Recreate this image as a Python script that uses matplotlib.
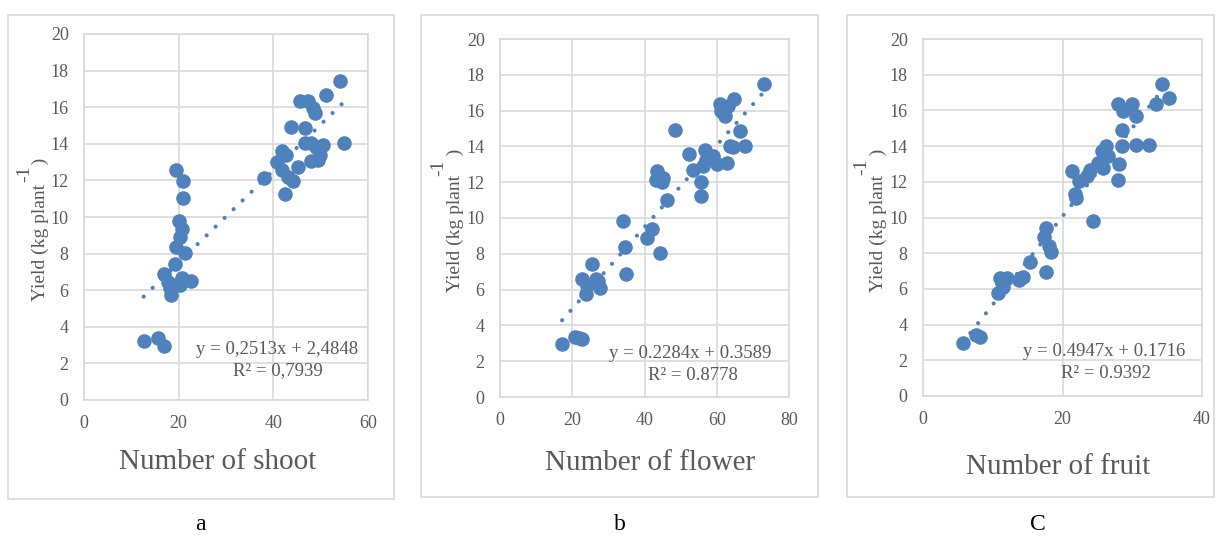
import matplotlib.pyplot as plt
import matplotlib.patches as patches
import numpy as np

plt.rcParams['font.family'] = ['Liberation Serif', 'DejaVu Serif']

# values
shoot = [12.6, 15.7, 16.9, 19.5, 20.9, 20.9, 20.0, 20.6, 20.2, 19.5, 21.4, 19.3, 16.9, 17.7,
         18.1, 18.3, 20.2, 20.6, 22.7, 19.0, 38.0, 40.8, 41.8, 42.7, 41.8, 43.1, 44.2, 42.4,
         43.7, 45.2, 45.7, 47.3, 48.4, 48.8, 46.7, 46.7, 48.0, 48.0, 49.4, 49.8, 50.4, 49.1,
         51.1, 54.0, 54.9]
yield_a = [3.24, 3.37, 2.95, 12.57, 11.99, 11.04, 9.8, 9.36, 8.89, 8.34, 8.05, 7.41, 6.89, 6.47,
           6.1, 5.74, 6.28, 6.65, 6.52, 6.3, 12.12, 13.0, 13.62, 13.39, 12.57, 12.2, 11.97, 11.28,
           14.92, 12.74, 16.35, 16.35, 15.96, 15.68, 14.86, 14.04, 14.03, 13.05, 13.11, 13.39, 13.93,
           13.8, 16.67, 17.44, 14.04]

flower = [17.2, 20.7, 22.8, 21.8, 22.6, 24.0, 23.8, 25.5, 26.7, 27.2, 27.8, 34.1, 34.7, 34.8,
          40.8, 42.2, 44.4, 43.5, 43.1, 45.2, 44.9, 46.1, 48.5, 52.4, 53.5, 55.6, 55.6, 56.7,
          56.2, 57.1, 59.0, 60.2, 62.7, 60.8, 61.3, 62.2, 63.1, 64.8, 63.6, 64.5, 66.4, 67.7, 73.1]
yield_b = [2.96, 3.35, 3.24, 3.3, 6.59, 6.18, 5.75, 7.43, 6.59, 6.46, 6.09, 9.85, 8.36, 6.89,
           8.88, 9.38, 8.04, 12.6, 12.14, 12.23, 11.99, 11.02, 14.93, 13.59, 12.66, 11.99, 11.25, 13.82,
           12.89, 13.26, 13.45, 13.04, 13.07, 16.39, 15.96, 15.72, 16.28, 16.65, 14.0, 13.97, 14.84, 14.0, 17.49]

fruit = [5.67, 7.6, 8.2, 10.8, 11.1, 11.3, 11.5, 12.0, 13.8, 14.4, 15.3, 17.7, 17.6, 17.4,
         18.1, 18.4, 21.4, 21.8, 22.0, 22.4, 23.5, 23.9, 24.4, 25.1, 25.8, 25.6, 26.3, 26.5,
         28.0, 28.0, 28.1, 28.5, 28.6, 28.7, 30.0, 30.6, 30.6, 32.4, 33.4, 34.3, 35.3]
yield_c = [2.99, 3.42, 3.29, 5.76, 6.6, 6.32, 6.09, 6.6, 6.5, 6.69, 7.48, 6.92, 9.4, 8.93,
           8.41, 8.04, 12.58, 11.31, 11.07, 12.02, 12.34, 12.64, 9.83, 13.08, 12.77, 13.7, 13.98, 13.42,
           16.36, 12.11, 13.01, 14.92, 13.98, 15.94, 16.36, 15.7, 14.06, 14.06, 16.37, 17.46, 16.67]

slopes = [0.2513, 0.2284, 0.4947]
intercepts = [2.4848, 0.3589, 0.1716]
eq_texts = ['y = 0,2513x + 2,4848', 'y = 0.2284x + 0.3589', 'y = 0.4947x + 0.1716']
r2_texts = ['R² = 0,7939', 'R² = 0.8778', 'R² = 0.9392']
xlabels = ['Number of shoot', 'Number of flower', 'Number of fruit']
xmax = [60, 80, 40]
xstep = [20, 20, 20]
panel_letters = ['a', 'b', 'C']

W, H = 1216, 537
fig = plt.figure(figsize=(W / 100, H / 100), dpi=100)

blue = '#4F81BD'
grid = '#D9D9D9'
txt = '#595959'

# axes boxes in pixels: left, top, right, bottom
boxes = [(84, 34, 368, 400), (500, 39, 789, 397), (923, 39, 1202, 396)]
frames = [(8, 15, 394, 499), (421, 15, 818, 497), (847, 15, 1214, 497)]
ylab_pos = [(40, 229), (455, 220), (878, 220)]
sup_pos = [(25, 174), (439, 168), (862, 167)]
xlab_pos = [(218, 462), (650, 463), (1058, 467)]
eq_pos = [(358, 350, 278, 371), (771, 353, 693, 375), (1185, 351, 1106, 373)]
letter_x = [200, 620, 1038]

xs = [shoot, flower, fruit]
ys = [yield_a, yield_b, yield_c]

for i in range(3):
    fl, ft, fr, fb = frames[i]
    fig.patches.append(patches.Rectangle((fl / W, 1 - fb / H), (fr - fl) / W, (fb - ft) / H,
                                         transform=fig.transFigure, fill=False,
                                         edgecolor=grid, linewidth=1.2))

    l, t, r, b = boxes[i]
    ax = fig.add_axes([l / W, 1 - b / H, (r - l) / W, (b - t) / H])
    x = np.array(xs[i])
    y = np.array(ys[i])
    ax.scatter(x, y, s=110, color=blue, zorder=3, linewidths=0)
    xx = np.array([x.min(), x.max()])
    ax.plot(xx, slopes[i] * xx + intercepts[i], color=blue, lw=3.0,
            linestyle=(0, (0.01, 3.0)), dash_capstyle='round', zorder=2)

    ax.set_xlim(0, xmax[i])
    ax.set_ylim(0, 20)
    ax.set_xticks(np.arange(0, xmax[i] + 1, xstep[i]))
    ax.set_yticks(np.arange(0, 21, 2))
    ax.grid(True, color=grid, linewidth=1.2)
    ax.set_axisbelow(True)
    for s in ax.spines.values():
        s.set_color(grid)
        s.set_linewidth(1.2)
    ax.tick_params(length=0, labelsize=13, labelcolor=txt, pad=11)

    ex, ey, rx, ry = eq_pos[i]
    fig.text(ex / W, 1 - ey / H, eq_texts[i], ha='right', va='center', fontsize=13.5, color=txt)
    fig.text(rx / W, 1 - ry / H, r2_texts[i], ha='center', va='center', fontsize=13.5, color=txt)

    px, py = ylab_pos[i]
    fig.text(px / W, 1 - py / H, 'Yield (kg plant    )', rotation=90, ha='center', va='center',
             fontsize=14, color=txt)
    sx, sy = sup_pos[i]
    fig.text(sx / W, 1 - sy / H, '-1', rotation=90, ha='center', va='center', fontsize=14, color=txt)

    lx, ly = xlab_pos[i]
    fig.text(lx / W, 1 - ly / H, xlabels[i], ha='center', va='center', fontsize=21, color=txt)
    fig.text(letter_x[i] / W, 1 - 525 / H, panel_letters[i], ha='center', va='center',
             fontsize=17, color='black')

plt.savefig('out.png', dpi=100)
